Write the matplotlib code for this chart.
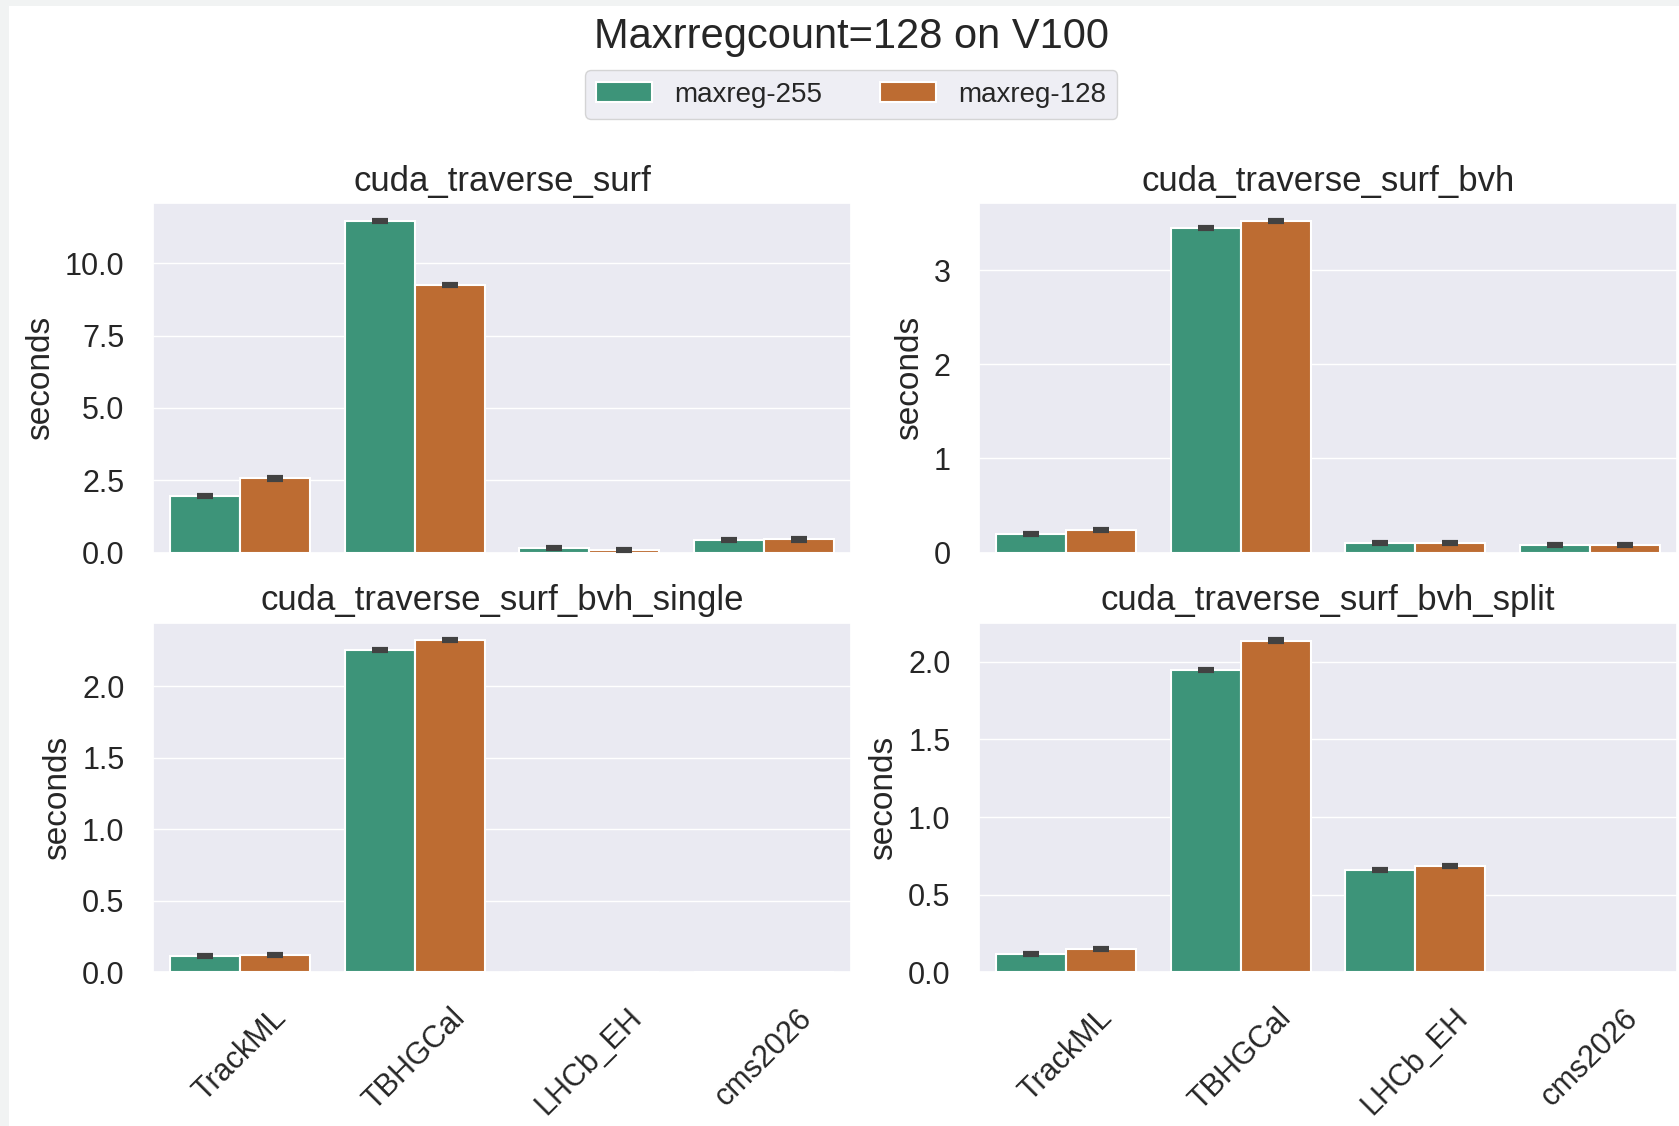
import numpy as np
import matplotlib
matplotlib.use("Agg")
import matplotlib.pyplot as plt
import seaborn as sns
from matplotlib.patches import Rectangle

sns.set_theme(style="darkgrid")
plt.rcParams['font.family'] = ['Liberation Sans', 'DejaVu Sans']

categories = ["TrackML", "TBHGCal", "LHCb_EH", "cms2026"]
series = ["maxreg-255", "maxreg-128"]
panels = ["cuda_traverse_surf", "cuda_traverse_surf_bvh",
          "cuda_traverse_surf_bvh_single", "cuda_traverse_surf_bvh_split"]

surf_255 = [1.94, 11.48, 0.14, 0.42]
surf_128 = [2.56, 9.26, 0.08, 0.45]
bvh_255 = [0.20, 3.45, 0.105, 0.078]
bvh_128 = [0.235, 3.53, 0.105, 0.078]
single_255 = [0.112, 2.25, 0.0, 0.0]
single_128 = [0.121, 2.32, 0.0, 0.0]
split_255 = [0.117, 1.945, 0.657, 0.0]
split_128 = [0.148, 2.137, 0.685, 0.0]

err_surf = [0.035, 0.035, 0.035, 0.035]
err_bvh = [0.01, 0.01, 0.01, 0.01]
err_single = [0.007, 0.007, 0.0, 0.0]
err_split = [0.007, 0.007, 0.007, 0.0]

values = [(surf_255, surf_128, err_surf), (bvh_255, bvh_128, err_bvh),
          (single_255, single_128, err_single), (split_255, split_128, err_split)]

colors = ["#3d9479", "#bd6c32"]

W, H = 1679, 1126
fig = plt.figure(figsize=(W / 100, H / 100), dpi=100)
fig.patch.set_facecolor("white")
fig.patches.append(Rectangle((0, 0), 9 / W, 1, transform=fig.transFigure,
                             facecolor="#f1f3f3", edgecolor="none", zorder=-10))
fig.patches.append(Rectangle((0, 1 - 6 / H), 1, 6 / H, transform=fig.transFigure,
                             facecolor="#f1f3f3", edgecolor="none", zorder=-10))

lefts = [153 / W, 979 / W]
width = 698 / W
bottoms = [1 - 552.5 / H, 1 - 972.3 / H]
height = 349.5 / H

x = np.arange(len(categories))
bw = 0.4
axes = []
for i, (v255, v128, err) in enumerate(values):
    r, c = divmod(i, 2)
    ax = fig.add_axes([lefts[c], bottoms[r], width, height])
    axes.append(ax)
    for j, (vals, col) in enumerate(zip((v255, v128), colors)):
        xs = x + (j - 0.5) * bw
        ax.bar(xs, vals, width=bw, color=col, edgecolor="white", linewidth=1.5,
               label=series[j], zorder=2)
        mask = np.array(vals) > 0
        ax.errorbar(xs[mask], np.array(vals)[mask], yerr=np.array(err)[mask],
                    fmt="none", ecolor="#424242", elinewidth=3, capsize=5.5,
                    capthick=3, zorder=3)
    ax.set_xlim(-0.5, 3.5)
    ax.set_title(panels[i], fontsize=25, pad=9)
    ax.set_ylabel("seconds", fontsize=24, labelpad=6)
    ax.tick_params(axis="y", labelsize=22, length=0, pad=20.5)
    ax.tick_params(axis="x", length=0, pad=22)
    ax.set_xticks(x)
    if r == 0:
        ax.set_xticklabels([])
    else:
        ax.set_xticklabels(categories, rotation=45, fontsize=22)
    ax.grid(axis="x", visible=False)

axes[0].set_yticks([0, 2.5, 5.0, 7.5, 10.0])
axes[0].set_yticklabels(["0.0", "2.5", "5.0", "7.5", "10.0"])
axes[1].set_yticks([0, 1, 2, 3])
axes[2].set_yticks([0, 0.5, 1.0, 1.5, 2.0])
axes[2].set_yticklabels(["0.0", "0.5", "1.0", "1.5", "2.0"])
axes[3].set_yticks([0, 0.5, 1.0, 1.5, 2.0])
axes[3].set_yticklabels(["0.0", "0.5", "1.0", "1.5", "2.0"])

fig.text(851 / W, 1 - 37 / H, "Maxrregcount=128 on V100", fontsize=30,
         ha="center", va="center", color="#262626")
handles, labels = axes[0].get_legend_handles_labels()
handles = [h for h in handles if isinstance(h, matplotlib.container.BarContainer)]
fig.legend(handles, series, loc="center", bbox_to_anchor=(851 / W, 1 - 94.5 / H),
           ncol=2, fontsize=20, frameon=True, columnspacing=2.1)

fig.savefig("out.png", dpi=100, facecolor=fig.get_facecolor())
